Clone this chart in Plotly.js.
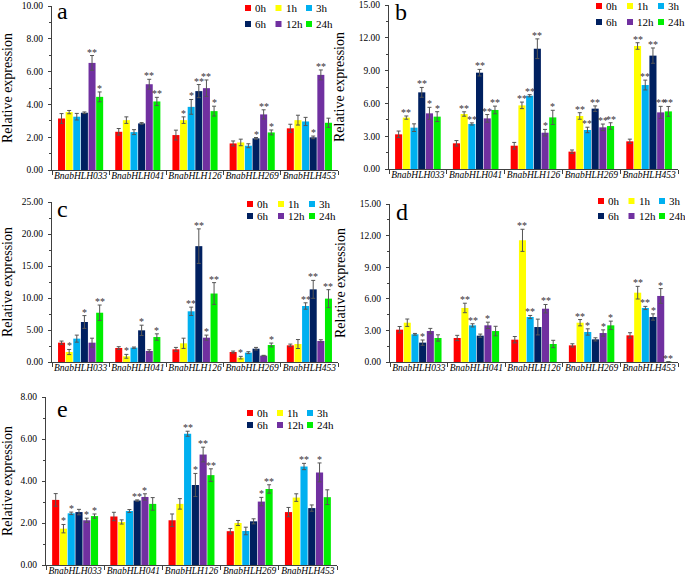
<!DOCTYPE html>
<html><head><meta charset="utf-8">
<script src="https://cdn.plot.ly/plotly-3.0.1.min.js"></script>
<style>html,body{margin:0;padding:0;background:#fff}#chart{width:685px;height:577px}</style>
</head><body><div id="chart"></div>
<script>
// ---------- data ----------
const genes = ['BnabHLH033','BnabHLH041','BnabHLH126','BnabHLH269','BnabHLH453'];
const times = ['0h','1h','3h','6h','12h','24h'];

// rows = time points (0h,1h,3h,6h,12h,24h), columns = genes
const aMean = [[3.14,2.33,2.13,1.62,2.54],[3.53,3.04,3.04,1.68,3.04],[3.25,2.31,3.85,1.48,2.96],[3.49,2.84,4.81,1.93,1.99],[6.53,5.23,4.99,3.39,5.80],[4.46,4.18,3.59,2.29,2.88]];
const aErr  = [[0.30,0.20,0.30,0.15,0.25],[0.10,0.20,0.20,0.20,0.30],[0.20,0.15,0.45,0.12,0.25],[0.05,0.05,0.40,0.05,0.08],[0.45,0.30,0.50,0.28,0.30],[0.30,0.25,0.30,0.15,0.28]];
const aSig  = [['','','','',''],['','','*','',''],['','','*','',''],['','','**','*','*'],['**','**','**','**','**'],['*','**','*','*','']];

const bMean = [[3.17,2.35,2.13,1.59,2.53],[4.70,5.03,5.82,4.85,11.25],[3.78,4.12,6.70,3.57,7.68],[7.01,8.81,11.00,5.52,10.37],[5.09,4.63,3.32,3.81,5.18],[4.79,5.40,4.72,3.93,5.27]];
const bErr  = [[0.30,0.25,0.30,0.15,0.20],[0.15,0.20,0.30,0.30,0.30],[0.35,0.10,0.10,0.25,0.45],[0.45,0.30,0.90,0.25,0.70],[0.55,0.35,0.30,0.30,0.55],[0.45,0.35,0.65,0.30,0.45]];
const bSig  = [['','','','',''],['**','**','**','**','**'],['','**','**','**','**'],['**','**','**','**','**'],['*','**','*','**','**'],['*','**','*','**','**']];

const cMean = [[3.02,2.19,1.98,1.56,2.60],[1.56,0.89,2.92,0.68,2.81],[3.65,2.24,7.92,1.46,8.75],[6.25,4.95,18.10,2.08,11.35],[3.02,1.72,3.80,0.99,3.28],[7.70,3.90,10.70,2.66,9.90]];
const cErr  = [[0.25,0.20,0.30,0.15,0.20],[0.40,0.30,0.80,0.20,0.70],[0.55,0.10,0.65,0.15,0.50],[1.00,0.80,2.70,0.20,1.40],[0.70,0.20,0.40,0.05,0.20],[1.20,0.50,1.70,0.30,1.40]];
const cSig  = [['','','','',''],['*','*','','*',''],['','','**','','**'],['*','*','**','','**'],['','','*','',''],['**','*','**','*','**']];

const dMean = [[3.07,2.28,2.12,1.58,2.53],[3.73,5.13,11.55,3.73,6.58],[2.63,3.48,4.27,2.85,5.13],[1.84,2.50,3.32,2.15,4.27],[2.94,3.48,5.06,2.75,6.27],[2.28,2.94,1.71,3.48,0.02]];
const dErr  = [[0.30,0.25,0.30,0.15,0.25],[0.35,0.45,1.05,0.30,0.60],[0.08,0.15,0.15,0.30,0.15],[0.25,0.15,0.75,0.15,0.30],[0.25,0.30,0.40,0.30,0.70],[0.30,0.45,0.35,0.40,0.00]];
const dSig  = [['','','','',''],['','**','**','**','**'],['','**','**','*','**'],['*','','','','*'],['','*','**','*','*'],['','','','*','**']];

const eMean = [[3.10,2.31,2.13,1.61,2.52],[1.73,2.05,2.91,2.00,3.21],[2.46,2.57,6.25,1.62,4.69],[2.52,3.07,3.81,2.08,2.71],[2.13,3.24,5.26,3.02,4.41],[2.33,2.91,4.28,3.62,3.23]];
const eErr  = [[0.30,0.20,0.30,0.13,0.22],[0.20,0.10,0.25,0.12,0.18],[0.06,0.07,0.12,0.18,0.15],[0.13,0.03,0.55,0.12,0.15],[0.10,0.15,0.35,0.20,0.45],[0.10,0.30,0.30,0.20,0.35]];
const eSig  = [['','','','',''],['*','','','',''],['*','','**','','**'],['','**','*','',''],['*','*','**','*','*'],['*','','**','**','']];

const panelLetters = ['a','b','c','d','e'];
const yMax = [10, 15, 25, 15, 8];
const yStep = [2, 3, 5, 3, 2];

// ---------- styling / layout ----------
const colors = ['#ff0000','#ffff00','#00b0f0','#002060','#7030a0','#00ee00'];
const W = 685, H = 577;
const SERIF = 'Liberation Serif, Times New Roman, serif';
const px = x => x / W;
const py = y => 1 - y / H;

const panelBox = [ // pixel boxes: [xLeft, xRight, yTop, yBottom]
  [52, 338, 6, 170],
  [389, 678, 5, 169],
  [52, 338, 202, 362],
  [390, 678, 204, 362],
  [46, 337, 397, 565]
];
const legendPos = [ // [first square x, row1 y, row2 y, column step]
  [245, 8, 24, 30.5],
  [596, 6, 22, 31],
  [247, 204, 216, 31],
  [598, 201, 216, 30.5],
  [247, 413, 425, 30]
];
const letterPos = [[55, 11], [393, 12], [55, 209], [394, 212], [55, 409]];

const allMeans = [aMean, bMean, cMean, dMean, eMean];
const allErrs = [aErr, bErr, cErr, dErr, eErr];
const allSigs = [aSig, bSig, cSig, dSig, eSig];

const BARGAP = 0.2;
const nSeries = times.length;
const slot = (1 - BARGAP) / nSeries;

const traces = [];
const annotations = [];
const shapes = [];
const layout = {
  width: W, height: H,
  margin: {l: 0, r: 0, t: 0, b: 0},
  paper_bgcolor: '#fff', plot_bgcolor: '#fff',
  barmode: 'group', bargap: BARGAP, bargroupgap: 0.08,
  showlegend: false,
  font: {family: SERIF, color: '#000'}
};

for (let p = 0; p < 5; p++) {
  const k = p === 0 ? '' : String(p + 1);
  const box = panelBox[p];
  layout['xaxis' + k] = {
    domain: [px(box[0]), px(box[1])], anchor: 'y' + k,
    type: 'category', range: [-0.5, 4.5], tickson: 'boundaries',
    tickangle: 0, automargin: false,
    ticks: 'outside', ticklen: 4, tickcolor: '#404040',
    ticklabelstandoff: -3,
    showline: true, linecolor: '#404040', linewidth: 1,
    showgrid: false, zeroline: false, ticklabeloverflow: 'allow',
    tickfont: {family: SERIF, size: 9.5, color: '#000', style: 'italic'}
  };
  layout['yaxis' + k] = {
    domain: [py(box[3]), py(box[2])], anchor: 'x' + k,
    range: [0, yMax[p]], dtick: yStep[p], tick0: 0, tickformat: '.2f',
    ticks: 'outside', ticklen: 3, tickcolor: '#404040',
    ticklabeloverflow: 'allow', ticklabelstandoff: 3, automargin: false,
    minor: {ticks: 'outside', ticklen: 2, dtick: yStep[p] / 2, tickcolor: '#404040', showgrid: false},
    showline: true, linecolor: '#404040', linewidth: 1,
    showgrid: false, zeroline: false,
    tickfont: {family: SERIF, size: 9.5, color: '#000'},
    title: {text: 'Relative expression', font: {family: SERIF, size: 14, color: '#000'}, standoff: 10}
  };
  for (let i = 0; i < nSeries; i++) {
    traces.push({
      type: 'bar', name: times[i], x: genes, y: allMeans[p][i],
      xaxis: 'x' + k, yaxis: 'y' + k,
      marker: {color: colors[i], line: {width: 0}},
      error_y: {type: 'data', array: allErrs[p][i], visible: true, color: '#555', thickness: 1, width: 2},
      hoverinfo: 'x+y+name'
    });
    // significance marks
    for (let g = 0; g < genes.length; g++) {
      const s = allSigs[p][i][g];
      if (!s) continue;
      annotations.push({
        xref: 'x' + k, yref: 'y' + k,
        x: g - (1 - BARGAP) / 2 + slot * (i + 0.5),
        y: allMeans[p][i][g] + allErrs[p][i][g],
        text: s, showarrow: false, yanchor: 'bottom', yshift: -4,
        font: {family: SERIF, size: 10, color: '#333'}
      });
    }
    // legend entry
    const lp = legendPos[p];
    const col = i % 3, row = Math.floor(i / 3);
    const sx = lp[0] + col * lp[3];
    const sy = row === 0 ? lp[1] : lp[2];
    shapes.push({
      type: 'rect', xref: 'paper', yref: 'paper',
      x0: px(sx), x1: px(sx + 6), y0: py(sy + 3), y1: py(sy - 3),
      fillcolor: colors[i], line: {width: 0}
    });
    annotations.push({
      xref: 'paper', yref: 'paper', x: px(sx + 8), y: py(sy),
      xanchor: 'left', yanchor: 'middle', text: times[i], showarrow: false,
      font: {family: SERIF, size: 11, color: '#000'}
    });
  }
  annotations.push({
    xref: 'paper', yref: 'paper', x: px(letterPos[p][0]), y: py(letterPos[p][1]),
    xanchor: 'left', yanchor: 'middle', text: panelLetters[p], showarrow: false,
    font: {family: SERIF, size: 24, color: '#000'}
  });
}
layout.annotations = annotations;
layout.shapes = shapes;

Plotly.newPlot('chart', traces, layout, {displayModeBar: false, staticPlot: true});
</script>
</body></html>
